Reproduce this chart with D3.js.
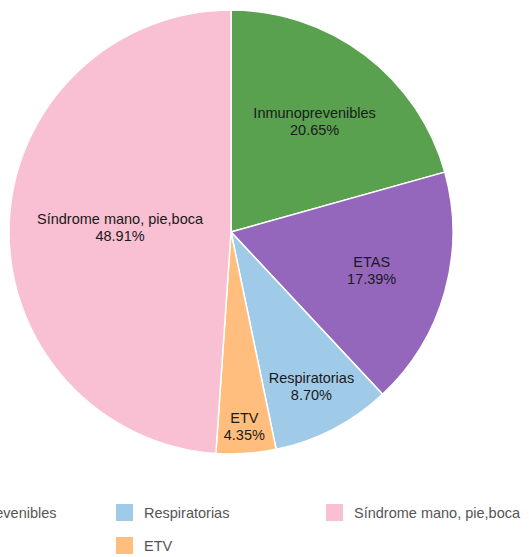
<!DOCTYPE html>
<html>
<head>
<meta charset="utf-8">
<script src="https://cdn.jsdelivr.net/npm/d3@7"></script>
<style>
  html, body { margin: 0; padding: 0; background: #fff; overflow: hidden; }
  svg { display: block; font-family: "Liberation Sans", Arial, sans-serif; }
</style>
</head>
<body>
<svg id="chart" width="529" height="557"></svg>
<script>
  // Data
  const categories = ['Inmunoprevenibles', 'ETAS', 'Respiratorias', 'ETV', 'Síndrome mano, pie,boca']
  const counts = [19, 16, 8, 4, 45]
  const colors = ['#59a14f', '#9467bd', '#a0cbe8', '#ffbe7d', '#f9bfd3']

  const svg = d3.select('#chart')
  const cx = 231, cy = 232, radius = 222
  const total = d3.sum(counts)

  const color = d3.scaleOrdinal().domain(categories).range(colors)

  const pie = d3.pie().sort(null).value(d => d.value)
  const arcs = pie(categories.map((c, i) => ({ name: c, value: counts[i] })))
  const arc = d3.arc().innerRadius(0).outerRadius(radius)

  const g = svg.append('g').attr('transform', `translate(${cx},${cy})`)

  g.selectAll('path.slice')
    .data(arcs)
    .enter()
    .append('path')
      .attr('class', 'slice')
      .attr('d', arc)
      .attr('fill', d => color(d.data.name))
      .attr('stroke', '#fff')
      .attr('stroke-width', 1.5)

  // label sits in the centre of the circle inscribed in each slice
  function labelPos(d) {
    const half = (d.endAngle - d.startAngle) / 2
    const mid = d.startAngle + half
    const rIn = Math.min(1 / (1 + 1 / Math.sin(half)), 0.5)
    const r = radius * (1 - rIn)
    return [r * Math.sin(mid), -r * Math.cos(mid)]
  }

  const fmt = d3.format('.2%')
  const labels = g.selectAll('text.lbl')
    .data(arcs)
    .enter()
    .append('text')
      .attr('class', 'lbl')
      .attr('text-anchor', 'middle')
      .attr('font-size', 14.5)
      .attr('fill', '#1a1a1a')
      .attr('transform', d => `translate(${labelPos(d)})`)
  labels.append('tspan')
    .attr('x', 0).attr('y', -4)
    .text(d => d.data.name)
  labels.append('tspan')
    .attr('x', 0).attr('y', 13)
    .text(d => fmt(d.data.value / total))

  // Legend: 2 rows, filled column by column
  const legend = svg.append('g').attr('transform', 'translate(-94,504)')
  const items = legend.selectAll('g.item')
    .data(categories)
    .enter()
    .append('g')
      .attr('class', 'item')
      .attr('transform', (d, i) => `translate(${Math.floor(i / 2) * 210},${(i % 2) * 33})`)
  items.append('rect')
    .attr('width', 17).attr('height', 17)
    .attr('fill', d => color(d))
  items.append('text')
    .attr('x', 28).attr('y', 14)
    .attr('font-size', 14.5)
    .attr('fill', '#555')
    .text(d => d)
</script>
</body>
</html>
